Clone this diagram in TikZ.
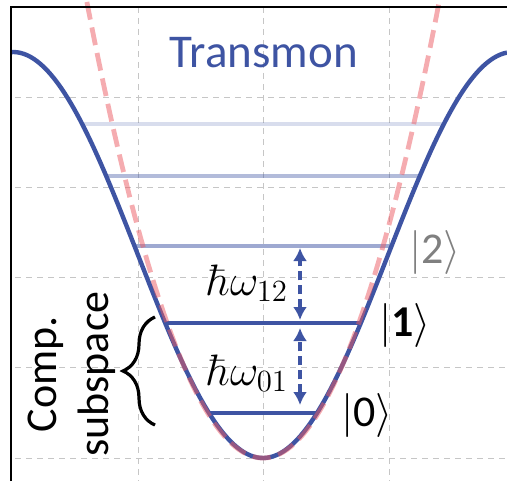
\documentclass[tikz,border=0pt]{standalone}
\usepackage{fix-cm}
\usepackage[no-math]{fontspec}
\setmainfont{Carlito}
\usetikzlibrary{arrows.meta,decorations.pathreplacing}
\definecolor{tblue}{RGB}{62,84,163}
\definecolor{tred}{RGB}{236,90,98}

\begin{document}
\begin{tikzpicture}[x=0.5pt,y=-0.5pt,
  gridln/.style={gray!45, line width=0.5pt, dash pattern=on 3pt off 2.5pt},
  potline/.style={tblue, line width=2.2pt},
  harmline/.style={tred, opacity=0.5, line width=2.4pt, dash pattern=on 9pt off 4pt},
  statelvl/.style={tblue, line width=2pt},
  gaparrow/.style={tblue, line width=1.8pt, dash pattern=on 4.5pt off 2.5pt,
    {Latex[length=6.5pt,width=7pt]}-{Latex[length=6.5pt,width=7pt]}},
  lbl/.style={font=\fontsize{22}{26}\selectfont}]
  \useasboundingbox (0,0) rectangle (507,481);
  \clip (0,0) rectangle (507,481);
  % grid
  \foreach \gx in {138,263,389}
    \draw[gridln] (\gx,7) -- (\gx,481);
  \foreach \gy in {97,187,277,367,458}
    \draw[gridln] (15,\gy) -- (507,\gy);
  % energy levels
  \draw[statelvl, opacity=0.2] (82.2,124) -- (443.8,124);
  \draw[statelvl, opacity=0.4] (106.2,176) -- (419.8,176);
  \draw[statelvl, opacity=0.5] (134.5,246) -- (391.5,246);
  \draw[statelvl] (165.2,323) -- (360.8,323);
  \draw[statelvl] (209,413) -- (317,413);
  % cosine potential
  \draw[potline, domain=11:507, samples=150]
    plot (\x, {458-203*(1-cos((\x-263)*0.72))});
  % harmonic approximation
  \draw[harmline, domain=82:444, samples=100]
    plot (\x, {458-1.47*((\x-263)/10)^2});
  % frame
  \draw[line width=1pt] (11,481) -- (11,7) -- (507,7);
  % labels
  \node[tblue, font=\fontsize{23.5}{28}\selectfont] (title) at (264,53) {Transmon};
  \node[lbl, text=gray] (k2) at (435,252) {$|$2$\rangle$};
  \node[lbl] (k1) at (405,325) {$|$\textbf{1}$\rangle$};
  \node[lbl] (k0) at (367,415) {$|$0$\rangle$};
  \node[lbl, anchor=base west] (w12) at (200,295) {$\hbar\omega_{12}$};
  \node[lbl, anchor=base west] (w01) at (200,385) {$\hbar\omega_{01}$};
  \node[lbl, rotate=90, align=center] (comp) at (72,374) {Comp.\\subspace};
  % transitions
  \coordinate (a12t) at (300,248);
  \coordinate (a12b) at (300,320);
  \coordinate (a01t) at (300,328);
  \coordinate (a01b) at (300,405);
  \draw[gaparrow] (a12b) -- (a12t);
  \draw[gaparrow] (a01b) -- (a01t);
  % brace
  \coordinate (brlo) at (155,425);
  \coordinate (brhi) at (155,317);
  \draw[line width=1.6pt, decorate, decoration={brace, amplitude=16pt}] (brlo) -- (brhi);
\end{tikzpicture}
\end{document}
